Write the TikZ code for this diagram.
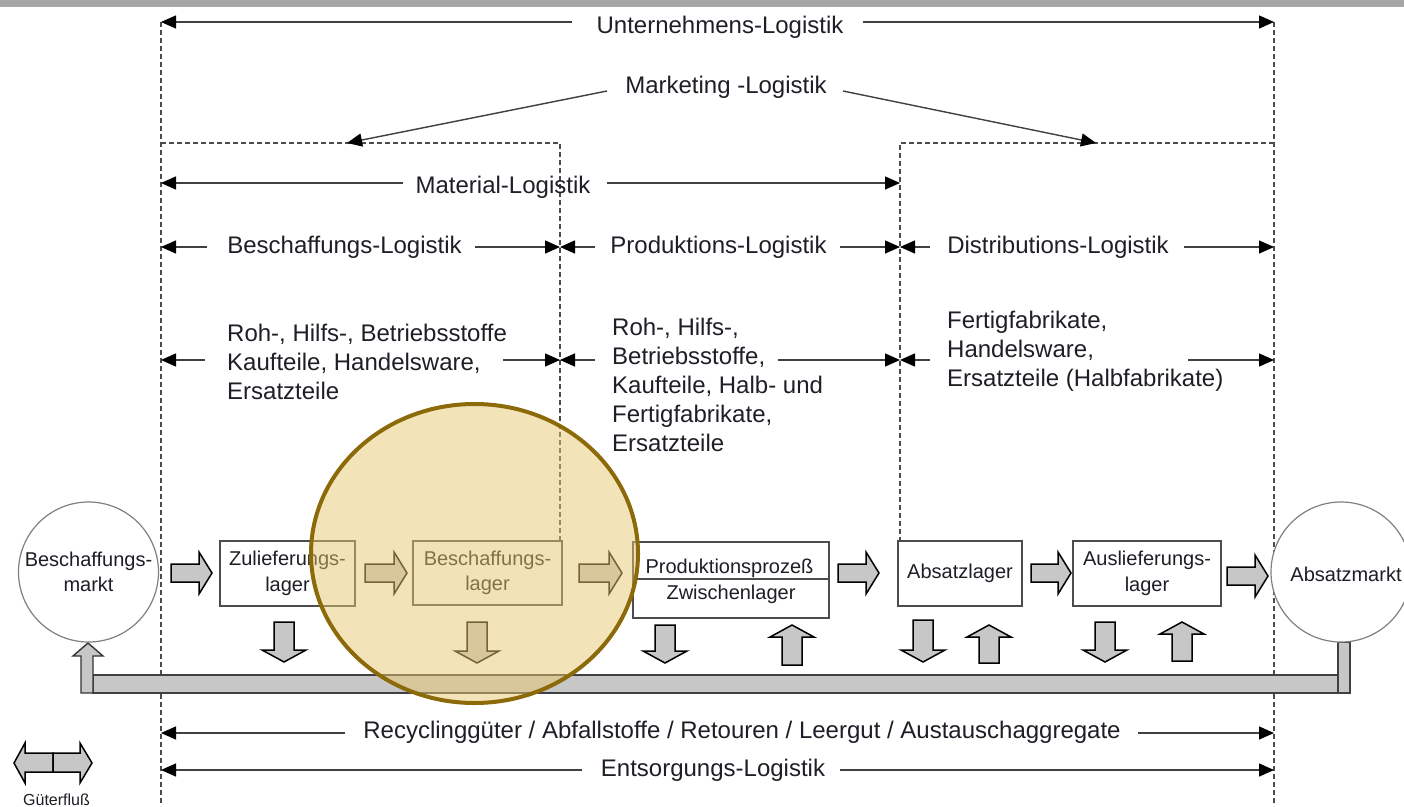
\documentclass[tikz,border=0pt]{standalone}
\usepackage{fontspec}
\setmainfont{Liberation Sans}
\usetikzlibrary{arrows.meta}
\definecolor{hlfill}{RGB}{231,199,113}
\definecolor{hlline}{RGB}{140,106,10}
\definecolor{txtc}{RGB}{30,30,38}
\newcommand\blkright[3]{\filldraw[blk] (#1,#3-9) -- (#2-13,#3-9) -- (#2-13,#3-21) -- (#2,#3) -- (#2-13,#3+21) -- (#2-13,#3+9) -- (#1,#3+9) -- cycle;}
\newcommand\blkdown[3]{\filldraw[blk] (#1-10,#2) -- (#1+10,#2) -- (#1+10,#3-12) -- (#1+22,#3-12) -- (#1,#3) -- (#1-22,#3-12) -- (#1-10,#3-12) -- cycle;}
\newcommand\blkup[3]{\filldraw[blk] (#1-10,#3) -- (#1+10,#3) -- (#1+10,#2+12) -- (#1+22,#2+12) -- (#1,#2) -- (#1-22,#2+12) -- (#1-10,#2+12) -- cycle;}
\begin{document}
\begin{tikzpicture}[x=1pt,y=-1pt,
  txt/.style={text=txtc, inner sep=0pt},
  big/.style={font=\fontsize{24}{29}\selectfont},
  small/.style={font=\fontsize{20}{25.5}\selectfont},
  dim/.style={draw=black!75, line width=1.4pt, -{Triangle[length=15pt,width=13pt,color=black]}},
  dsh/.style={draw=black!70, line width=1.1pt, dash pattern=on 5pt off 3pt},
  box/.style={draw=black!70, line width=1.3pt, fill=white, inner sep=0pt, text=txtc},
  circ/.style={circle, draw=black!50, line width=1.2pt, fill=white, inner sep=0pt, minimum size=140pt, text=txtc},
  blk/.style={fill=black!22, draw=black, line width=1.5pt, line join=miter},
  bar/.style={fill=black!22, draw=black!75, line width=1.4pt},
]
\useasboundingbox (0,0) rectangle (1404,806);
\fill[black!35] (0,0) rectangle (1404,7);

% dashed frame lines
\coordinate (L0) at (161,22); \coordinate (L1) at (161,806);
\coordinate (R0) at (1274,22); \coordinate (R1) at (1274,806);
\coordinate (mL) at (161,143); \coordinate (mM) at (560,143); \coordinate (mB) at (560,541);
\coordinate (dM) at (900,143); \coordinate (dR) at (1274,143); \coordinate (dB) at (900,541);
\draw[dsh] (L0) -- (L1);
\draw[dsh] (R0) -- (R1);
\draw[dsh] (mL) -- (mM) -- (mB);
\draw[dsh] (dR) -- (dM) -- (dB);

% Unternehmens-Logistik
\node[txt,big,anchor=base] (ul) at (720,33) {Unternehmens-Logistik};
\coordinate (ulA) at (572,22); \coordinate (ulB) at (863,22);
\draw[dim] (ulA) -- (L0);
\draw[dim] (ulB) -- (R0);

% Marketing-Logistik
\node[txt,big,anchor=base] (mk) at (726,93) {Marketing -Logistik};
\coordinate (mkA) at (607,91); \coordinate (mkB) at (843,91);
\coordinate (mkL) at (347,143); \coordinate (mkR) at (1096,143);
\draw[dim] (mkA) -- (mkL);
\draw[dim] (mkB) -- (mkR);

% Material-Logistik
\node[txt,big,anchor=base] (ml) at (503,193) {Material-Logistik};
\coordinate (mlA) at (403,183); \coordinate (mlB) at (607,183);
\coordinate (mlL) at (161,183); \coordinate (mlR) at (900,183);
\draw[dim] (mlA) -- (mlL);
\draw[dim] (mlB) -- (mlR);

% row 247
\coordinate (r1a) at (161,247); \coordinate (r1b) at (560,247);
\coordinate (r1c) at (900,247); \coordinate (r1d) at (1274,247);
\node[txt,big,anchor=base] (bsl) at (344.5,253) {Beschaffungs-Logistik};
\node[txt,big,anchor=base] (prl) at (718.5,253) {Produktions-Logistik};
\node[txt,big,anchor=base] (dsl) at (1058,253) {Distributions-Logistik};
\coordinate (b1) at (207,247); \coordinate (b2) at (475,247);
\coordinate (p1) at (595,247); \coordinate (p2) at (840,247);
\coordinate (d1) at (930,247); \coordinate (d2) at (1184,247);
\draw[dim] (b1) -- (r1a); \draw[dim] (b2) -- (r1b);
\draw[dim] (p1) -- (r1b); \draw[dim] (p2) -- (r1c);
\draw[dim] (d1) -- (r1c); \draw[dim] (d2) -- (r1d);

% row 360
\coordinate (r2a) at (161,360); \coordinate (r2b) at (560,360);
\coordinate (r2c) at (900,360); \coordinate (r2d) at (1274,360);
\node[txt,big,align=left,anchor=north west] (gb) at (227,323.5) {Roh-, Hilfs-, Betriebsstoffe\\Kaufteile, Handelsware,\\Ersatzteile};
\node[txt,big,align=left,anchor=north west] (gp) at (612,317.5) {Roh-, Hilfs-,\\Betriebsstoffe,\\Kaufteile, Halb- und\\Fertigfabrikate,\\Ersatzteile};
\node[txt,big,align=left,anchor=north west] (gd) at (947,310.5) {Fertigfabrikate,\\Handelsware,\\Ersatzteile (Halbfabrikate)};
\coordinate (g1) at (205,360); \coordinate (g2) at (503,360);
\coordinate (g3) at (595,360); \coordinate (g4) at (778,360);
\coordinate (g5) at (930,360); \coordinate (g6) at (1188,360);
\draw[dim] (g1) -- (r2a); \draw[dim] (g2) -- (r2b);
\draw[dim] (g3) -- (r2b); \draw[dim] (g4) -- (r2c);
\draw[dim] (g5) -- (r2c); \draw[dim] (g6) -- (r2d);

% return bar
\filldraw[bar] (93,675) rectangle (1338,693);
\filldraw[bar] (1338,642) rectangle (1350,693);
\filldraw[blk,draw=black!80,line width=1.4pt] (81,693) -- (81,656) -- (73,656) -- (88,643) -- (103,656) -- (93,656) -- (93,693) -- cycle;

% markets
\node[circ,small,align=center] (bm) at (88.5,572) {Beschaffungs-\\markt};
\node[circ] (am) at (1341,572) {};
\node[txt,small,anchor=base] (amt) at (1346,581) {Absatzmarkt};

% boxes
\node[box,small,align=center,minimum width=135pt,minimum height=65pt] (zl) at (287.5,573.5) {Zulieferungs-\\lager};
\node[box,small,align=center,minimum width=149pt,minimum height=64pt] (bl) at (487.5,573) {Beschaffungs-\\lager};
\node[box,minimum width=196pt,minimum height=76pt] (pp) at (731,580) {};
\coordinate (ppd) at (0,579);
\draw[draw=black!70,line width=1.3pt] (pp.west |- ppd) -- (pp.east |- ppd);
\node[txt,small,anchor=base] (ppt) at (729.5,573) {Produktionsprozeß};
\node[txt,small,anchor=base] (zwt) at (731,599) {Zwischenlager};
\node[box,small,minimum width=124pt,minimum height=65pt] (al) at (960,573.5) {Absatzlager};
\node[box,small,align=center,minimum width=148pt,minimum height=65pt] (ll) at (1147,573.5) {Auslieferungs-\\lager};

% flow arrows
\blkright{171}{212}{573}
\blkright{365}{407}{573}
\blkright{579}{622}{573}
\blkright{838}{879}{573}
\blkright{1031}{1071}{573}
\blkright{1227}{1268}{576}
\blkdown{284}{622}{662}
\blkdown{477}{622}{663}
\blkdown{665}{625}{663}
\blkup{792}{625}{665}
\blkdown{923}{620}{662}
\blkup{989}{625}{663}
\blkdown{1105}{622}{662}
\blkup{1182}{622}{661}

% Recycling / Entsorgung
\node[txt,big,anchor=base] (rc) at (742,738) {Recyclinggüter / Abfallstoffe / Retouren / Leergut / Austauschaggregate};
\coordinate (rcA) at (345,733); \coordinate (rcB) at (1138,733);
\coordinate (rcL) at (161,733); \coordinate (rcR) at (1274,733);
\draw[dim] (rcA) -- (rcL); \draw[dim] (rcB) -- (rcR);
\node[txt,big,anchor=base] (el) at (713,776) {Entsorgungs-Logistik};
\coordinate (elA) at (582,770); \coordinate (elB) at (840,770);
\coordinate (elL) at (161,770); \coordinate (elR) at (1274,770);
\draw[dim] (elA) -- (elL); \draw[dim] (elB) -- (elR);

% highlight
\draw[draw=hlline, line width=4pt, fill=hlfill, fill opacity=0.5] (474.5,553.5) ellipse [x radius=163.5pt, y radius=149.5pt];

% legend
\filldraw[blk] (53,753) -- (25,753) -- (25,743) -- (14,763) -- (25,783) -- (25,772) -- (53,772) -- cycle;
\filldraw[blk] (53,753) -- (80,753) -- (80,743) -- (92,763) -- (80,783) -- (80,772) -- (53,772) -- cycle;
\node[txt,font=\fontsize{16}{18}\selectfont,anchor=base] (gf) at (56.5,805) {Güterfluß};
\end{tikzpicture}
\end{document}
